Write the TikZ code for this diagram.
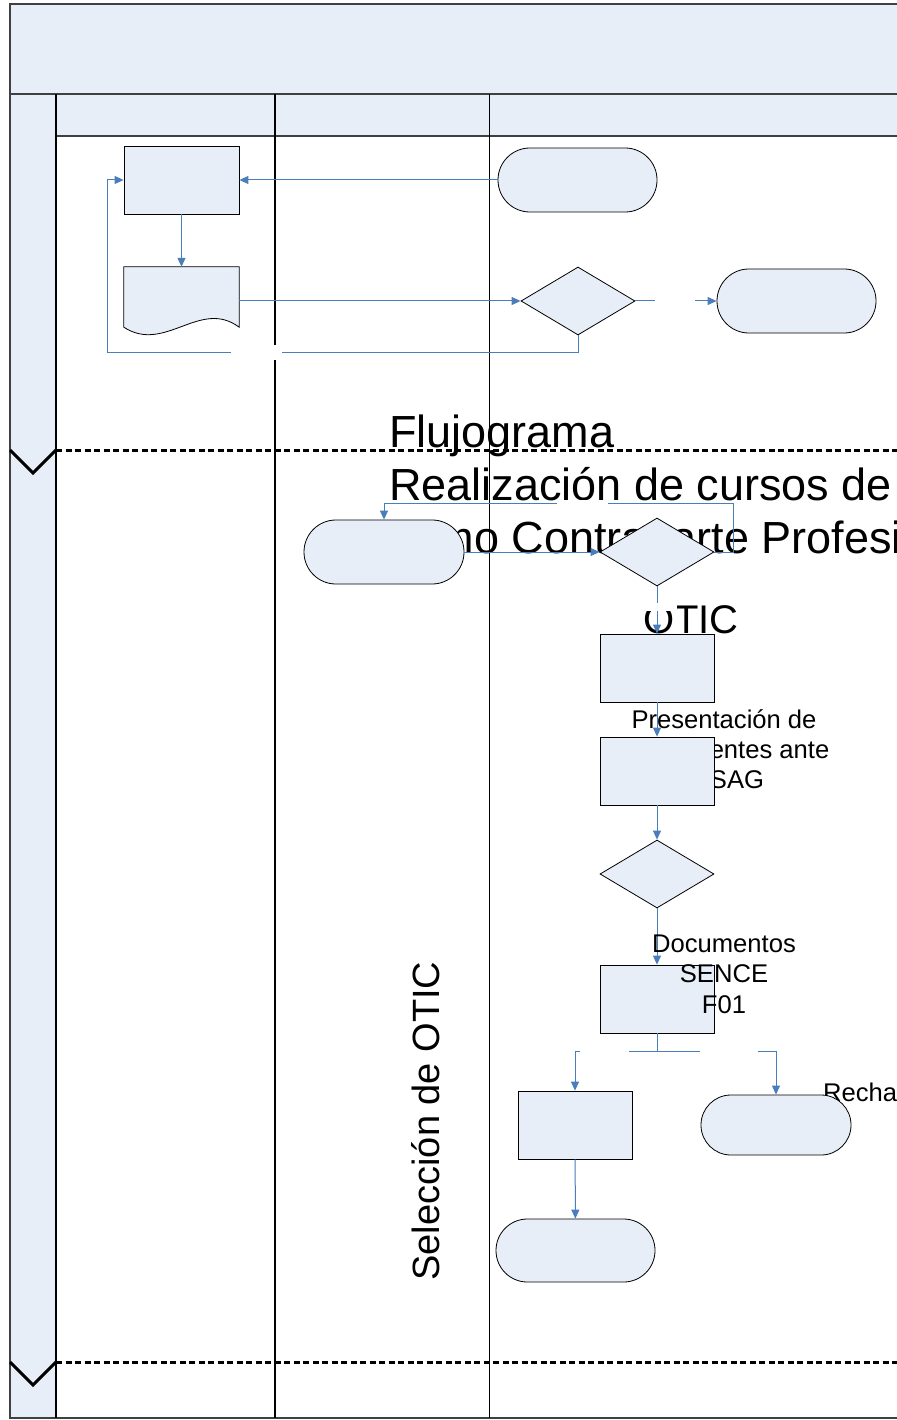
\documentclass[tikz,border=0pt]{standalone}
\usepackage{fontspec}
\setmainfont{Liberation Sans}
\usetikzlibrary{shapes.geometric,arrows.meta}

\definecolor{shapefill}{RGB}{232,238,247}
\definecolor{connblue}{RGB}{74,126,187}
\definecolor{framegray}{RGB}{64,64,64}

\begin{document}
\begin{tikzpicture}[x=1pt, y=-1pt,
    lane/.style={draw=framegray, line width=1.5pt},
    lanesep/.style={line width=3pt, dash pattern=on 6pt off 3.5pt},
    chev/.style={line width=3pt},
    shapebox/.style={draw, fill=shapefill, line width=0.8pt, inner sep=0pt},
    proc/.style={shapebox, rectangle, minimum width=114pt, minimum height=68pt},
    term/.style={shapebox, rectangle, rounded corners=31.9pt, minimum width=159pt, minimum height=64pt},
    dec/.style={shapebox, diamond, minimum width=114pt, minimum height=68pt},
    conn/.style={draw=connblue, line width=1pt},
    arr/.style={conn, -{Triangle[length=9pt,width=8pt]}},
    gapbox/.style={fill=white, inner sep=0pt, minimum height=10pt},
    titletext/.style={font=\fontsize{45}{54}\selectfont, inner sep=0pt},
    notetext/.style={font=\fontsize{25.6}{30}\selectfont, inner sep=0pt},
   ]
    \useasboundingbox (0,0) rectangle (896,1420);

    % pool and lanes
    \fill[shapefill] (10,4) rectangle (900,136);
    \fill[shapefill] (10,136) rectangle (56,1418);
    \draw[lane] (900,4) -- (10,4) -- (10,1418) -- (900,1418);
    \draw[lane, line width=2.5pt] (10,94) -- (900,94);
    \draw[lane] (56,136) -- (900,136);
    \draw[line width=1.5pt] (56,94) -- (56,1418);
    \draw[line width=1.5pt] (275,94) -- (275,1418);
    \draw[line width=1pt] (489,94) -- (489,1418);
    \draw[lanesep] (56,450) -- (900,450);
    \draw[lanesep] (56,1362) -- (900,1362);
    \draw[chev] (10,450) -- (33,473) -- (56,450);
    \draw[chev] (10,1362) -- (33,1385) -- (56,1362);

    % texts
    \node[titletext, anchor=base west] (tit1) at (389,447) {Flujograma};
    \node[titletext, anchor=base west] (tit2) at (389,500) {Realización de cursos de};
    \node[titletext, anchor=base west] (tit3) at (389,553) {como Contraparte Profesi};
    \node[font=\fontsize{40}{48}\selectfont, inner sep=0pt, anchor=base] (tit4) at (691,633) {OTIC};
    \node[font=\fontsize{38}{46}\selectfont, inner sep=0pt, rotate=90, anchor=base] (lanename) at (439,1121) {Selección de OTIC};
    \node[notetext, anchor=base] (pres1) at (724,728) {Presentación de};
    \node[notetext, anchor=base] (pres2) at (724,758) {antecedentes ante};
    \node[notetext, anchor=base] (pres3) at (737,788) {SAG};
    \node[notetext, anchor=base west] (rech) at (823,1101) {Recha};

    % shapes
    \node[proc, minimum width=115pt] (proc1) at (181.5,180) {};
    \node[rectangle, minimum width=115pt, minimum height=60pt, inner sep=0pt] (doc) at (181.5,297) {};
    \filldraw[fill=shapefill, line width=0.8pt] (doc.north west) -- (doc.north east) -- (doc.south east)
        .. controls (200,298) and (165,354) .. (doc.south west) -- cycle;
    \node[term] (term1) at (577.5,180) {};
    \node[dec] (dec1) at (578,301) {};
    \node[term] (term2) at (796.5,301) {};
    \node[term, minimum width=160pt] (term3) at (384,552) {};
    \node[dec] (dec2) at (657,552) {};
    \node[proc] (proc2) at (657,668) {};
    \node[proc] (proc3) at (657,771) {};
    \node[dec] (dec3) at (657,874) {};
    \node[proc] (proc4) at (657,999) {};
    \node[proc] (proc5) at (575,1125) {};
    \node[term, rounded corners=29.9pt, minimum width=150pt, minimum height=60pt] (term4) at (776,1125) {};
    \node[term, rounded corners=31.4pt, minimum height=63pt] (term5) at (575.5,1250.5) {};

    % connectors
    \coordinate (loopL) at (107,352);
    \coordinate (loopR) at (733,503);
    \coordinate (split) at (657,1051);
    \draw[arr] (term1.west) -- (proc1.east);
    \draw[arr] (proc1) -- (doc);
    \draw[arr] (doc.east |- dec1.west) -- (dec1.west);
    \draw[arr] (dec1.east) -- (term2.west);
    \draw[arr] (dec1.south) |- (loopL) |- (proc1.west);
    \draw[arr] (term3.east) -- (dec2.west);
    \draw[arr] (dec2.east) -| (loopR) -| (term3.north);
    \draw[arr] (dec2) -- (proc2);
    \draw[arr] (proc2) -- (proc3);
    \draw[arr] (proc3) -- (dec3);
    \draw[arr] (dec3) -- (proc4);
    \draw[conn] (proc4) -- (split);
    \draw[arr] (split) -| (proc5.north);
    \draw[arr] (split) -| (term4.north);
    \draw[arr] (proc5) -- (term5);

    % blank label boxes on the connectors
    \node[gapbox, minimum width=51pt, minimum height=15pt] (gap1) at (256.5,352.5) {};
    \node[gapbox, minimum width=40pt] (gap2) at (675,301) {};
    \node[gapbox, minimum width=51pt, minimum height=6pt] (gap3) at (582.5,503) {};
    \node[gapbox, minimum width=40pt, minimum height=8pt] (gap4) at (657,607) {};
    \node[gapbox, minimum width=49pt] (gap5) at (604.5,1051) {};
    \node[gapbox, minimum width=58pt] (gap6) at (729,1051) {};

    \node[notetext, anchor=base] (sence1) at (724,952) {Documentos};
    \node[notetext, anchor=base] (sence2) at (724,982) {SENCE};
    \node[notetext, anchor=base] (sence3) at (724,1013) {F01};
\end{tikzpicture}
\end{document}
